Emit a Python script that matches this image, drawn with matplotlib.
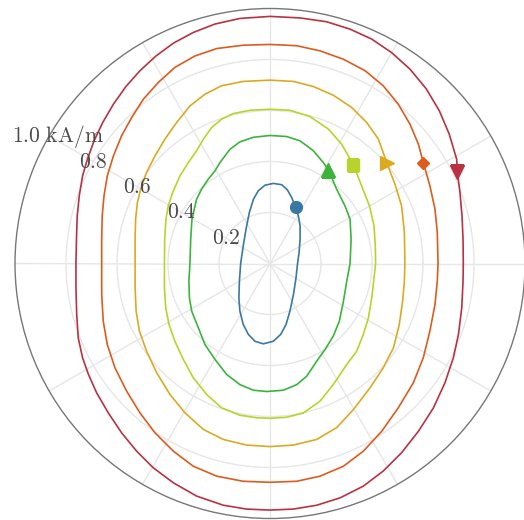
import numpy as np
import matplotlib
matplotlib.use("Agg")
import matplotlib.pyplot as plt

plt.rcParams['mathtext.fontset'] = 'cm'

# loci of the field vector (Hx, Hy in kA/m), each list starts at its marker and runs clockwise
blue_hx = [0.101, 0.111, 0.118, 0.118, 0.114, 0.108, 0.102, 0.092, 0.078, 0.063, 0.042, 0.013, -0.026, -0.059,
           -0.085, -0.105, -0.118, -0.122, -0.120, -0.115, -0.105, -0.094, -0.081, -0.065, -0.046, -0.020,
           0.013, 0.046, 0.068, 0.085]
blue_hy = [0.220, 0.187, 0.148, 0.095, 0.043, 0.0, -0.056, -0.122, -0.187, -0.239, -0.278, -0.305, -0.315, -0.305,
           -0.278, -0.239, -0.187, -0.135, -0.069, 0.0, 0.069, 0.135, 0.200, 0.252, 0.285, 0.307,
           0.314, 0.309, 0.289, 0.259]

green_hx = [0.229, 0.261, 0.294, 0.314, 0.318, 0.314, 0.301, 0.288, 0.272, 0.248, 0.216, 0.183, 0.144, 0.105,
            0.052, -0.013, -0.065, -0.118, -0.170, -0.216, -0.255, -0.281, -0.307, -0.316, -0.318, -0.314,
            -0.311, -0.306, -0.288, -0.268, -0.242, -0.216, -0.196, -0.157, -0.118, -0.065, 0.0, 0.065,
            0.118, 0.170, 0.209]
green_hy = [0.367, 0.292, 0.226, 0.174, 0.095, 0.0, -0.069, -0.148, -0.226, -0.285, -0.337, -0.383, -0.442, -0.475,
            -0.497, -0.502, -0.497, -0.475, -0.435, -0.376, -0.318, -0.252, -0.187, -0.135, -0.069, 0.0,
            0.095, 0.174, 0.252, 0.292, 0.331, 0.363, 0.396, 0.448, 0.477, 0.495, 0.502, 0.498,
            0.481, 0.442, 0.396]

lime_hx = [0.327, 0.359, 0.390, 0.408, 0.413, 0.414, 0.408, 0.399, 0.386, 0.366, 0.340, 0.301, 0.248, 0.196,
           0.131, 0.065, 0.0, -0.052, -0.118, -0.190, -0.248, -0.301, -0.340, -0.373, -0.396, -0.409,
           -0.414, -0.414, -0.413, -0.408, -0.399, -0.382, -0.353, -0.320, -0.288, -0.261, -0.229, -0.190,
           -0.144, -0.078, 0.0, 0.078, 0.157, 0.229, 0.281]
lime_hy = [0.387, 0.305, 0.226, 0.148, 0.069, 0.0, -0.056, -0.135, -0.213, -0.278, -0.344, -0.396, -0.475, -0.540,
           -0.586, -0.603, -0.607, -0.605, -0.595, -0.566, -0.514, -0.448, -0.376, -0.305, -0.239, -0.174,
           -0.095, 0.0, 0.095, 0.174, 0.226, 0.278, 0.344, 0.396, 0.442, 0.488, 0.533, 0.566,
           0.588, 0.601, 0.605, 0.601, 0.576, 0.527, 0.468]

gold_hx = [0.458, 0.490, 0.516, 0.527, 0.529, 0.527, 0.520, 0.507, 0.484, 0.444, 0.392, 0.327, 0.261, 0.183,
           0.092, 0.0, -0.092, -0.183, -0.261, -0.333, -0.392, -0.444, -0.484, -0.512, -0.525, -0.529,
           -0.529, -0.529, -0.527, -0.520, -0.507, -0.484, -0.451, -0.412, -0.366, -0.314, -0.255, -0.190,
           -0.105, 0.0, 0.092, 0.170, 0.248, 0.320, 0.379, 0.425]
gold_hy = [0.395, 0.311, 0.226, 0.122, 0.0, -0.069, -0.148, -0.239, -0.331, -0.409, -0.488, -0.573, -0.644, -0.690,
           -0.712, -0.718, -0.712, -0.690, -0.651, -0.586, -0.514, -0.429, -0.344, -0.265, -0.187, -0.095,
           0.0, 0.095, 0.174, 0.239, 0.292, 0.357, 0.422, 0.488, 0.553, 0.618, 0.664, 0.697,
           0.714, 0.719, 0.714, 0.694, 0.660, 0.612, 0.553, 0.488]

orange_hx = [0.601, 0.627, 0.647, 0.656, 0.659, 0.656, 0.647, 0.627, 0.601, 0.562, 0.503, 0.438, 0.366, 0.288,
             0.196, 0.105, 0.0, -0.105, -0.209, -0.301, -0.379, -0.451, -0.510, -0.562, -0.608, -0.638,
             -0.654, -0.660, -0.660, -0.660, -0.658, -0.651, -0.638, -0.614, -0.582, -0.542, -0.497, -0.438,
             -0.373, -0.294, -0.209, -0.105, 0.0, 0.105, 0.196, 0.288, 0.373, 0.444, 0.503, 0.549, 0.582]
orange_hy = [0.396, 0.305, 0.213, 0.122, 0.0, -0.069, -0.161, -0.265, -0.370, -0.468, -0.566, -0.658, -0.736, -0.795,
             -0.834, -0.854, -0.858, -0.854, -0.834, -0.795, -0.736, -0.664, -0.586, -0.501, -0.409, -0.318,
             -0.226, -0.122, 0.0, 0.095, 0.187, 0.265, 0.344, 0.422, 0.501, 0.573, 0.644, 0.710,
             0.769, 0.814, 0.843, 0.856, 0.859, 0.854, 0.834, 0.801, 0.756, 0.697, 0.625, 0.546, 0.468]

red_hx = [0.735, 0.745, 0.753, 0.757, 0.758, 0.757, 0.752, 0.739, 0.719, 0.686, 0.641, 0.582, 0.516, 0.444,
          0.366, 0.275, 0.183, 0.092, 0.0, -0.092, -0.183, -0.288, -0.379, -0.458, -0.523, -0.582,
          -0.634, -0.680, -0.712, -0.735, -0.752, -0.758, -0.761, -0.761, -0.759, -0.756, -0.748, -0.735,
          -0.716, -0.690, -0.656, -0.614, -0.565, -0.510, -0.447, -0.379, -0.301, -0.216, -0.118, 0.0,
          0.118, 0.222, 0.314, 0.399, 0.477, 0.549, 0.612, 0.664, 0.703, 0.732]
red_hy = [0.357, 0.278, 0.187, 0.095, 0.0, -0.069, -0.174, -0.278, -0.370, -0.468, -0.566, -0.658, -0.742, -0.814,
          -0.873, -0.919, -0.948, -0.963, -0.967, -0.963, -0.948, -0.912, -0.860, -0.801, -0.736, -0.664,
          -0.586, -0.507, -0.435, -0.370, -0.292, -0.200, -0.095, 0.0, 0.095, 0.187, 0.265, 0.344,
          0.409, 0.481, 0.553, 0.625, 0.694, 0.756, 0.814, 0.864, 0.906, 0.939, 0.961, 0.969,
          0.963, 0.948, 0.919, 0.880, 0.827, 0.762, 0.686, 0.599, 0.507, 0.409]

curves = [
    (blue_hx, blue_hy, '#3a78a4', 'o', 8.5),
    (green_hx, green_hy, '#3cb43c', '^', 10),
    (lime_hx, lime_hy, '#b8d42a', 's', 8),
    (gold_hx, gold_hy, '#dcaa22', '>', 10),
    (orange_hx, orange_hy, '#dc5c1e', 'D', 6.5),
    (red_hx, red_hy, '#b83242', 'v', 10),
]

r_ticks = [0.2, 0.4, 0.6, 0.8, 1.0]
r_labels = ['0.2', '0.4', '0.6', '0.8', '1.0 kA/m']

fig = plt.figure(figsize=(5.24, 5.20), dpi=100)
ax = fig.add_axes([15 / 524, 1.5 / 520, 510 / 524, 510 / 520], projection='polar')

for hx, hy, col, mk, ms in curves:
    hx = np.array(hx + hx[:1])
    hy = np.array(hy + hy[:1])
    th = np.unwrap(np.arctan2(hy, hx))
    r = np.hypot(hx, hy)
    ax.plot(th, r, color=col, lw=1.2, zorder=3, solid_joinstyle='round')
    ax.plot(th[0], r[0], marker=mk, ms=ms, color=col, ls='none', zorder=4)

ax.set_ylim(0, 1.0)
ax.set_rticks(r_ticks[:-1])
ax.set_yticklabels([])
ax.set_thetagrids(np.arange(0, 360, 30), labels=[])
ax.grid(True, color='#e6e6e6', lw=1.0)
ax.spines['polar'].set_color('#777777')
ax.spines['polar'].set_linewidth(1.0)
ax.tick_params(length=0)

for rv, lab in zip(r_ticks, r_labels):
    dx = 6.5 if rv == 1.0 else 0
    ax.annotate(r'$\mathrm{' + lab.replace(' ', r'\ ') + '}$', (np.radians(150), rv),
                xytext=(dx, 0), textcoords='offset points',
                ha='center', va='center', fontsize=15.5, color='#4a4a4a', zorder=5)

fig.savefig('out.png', dpi=100)
